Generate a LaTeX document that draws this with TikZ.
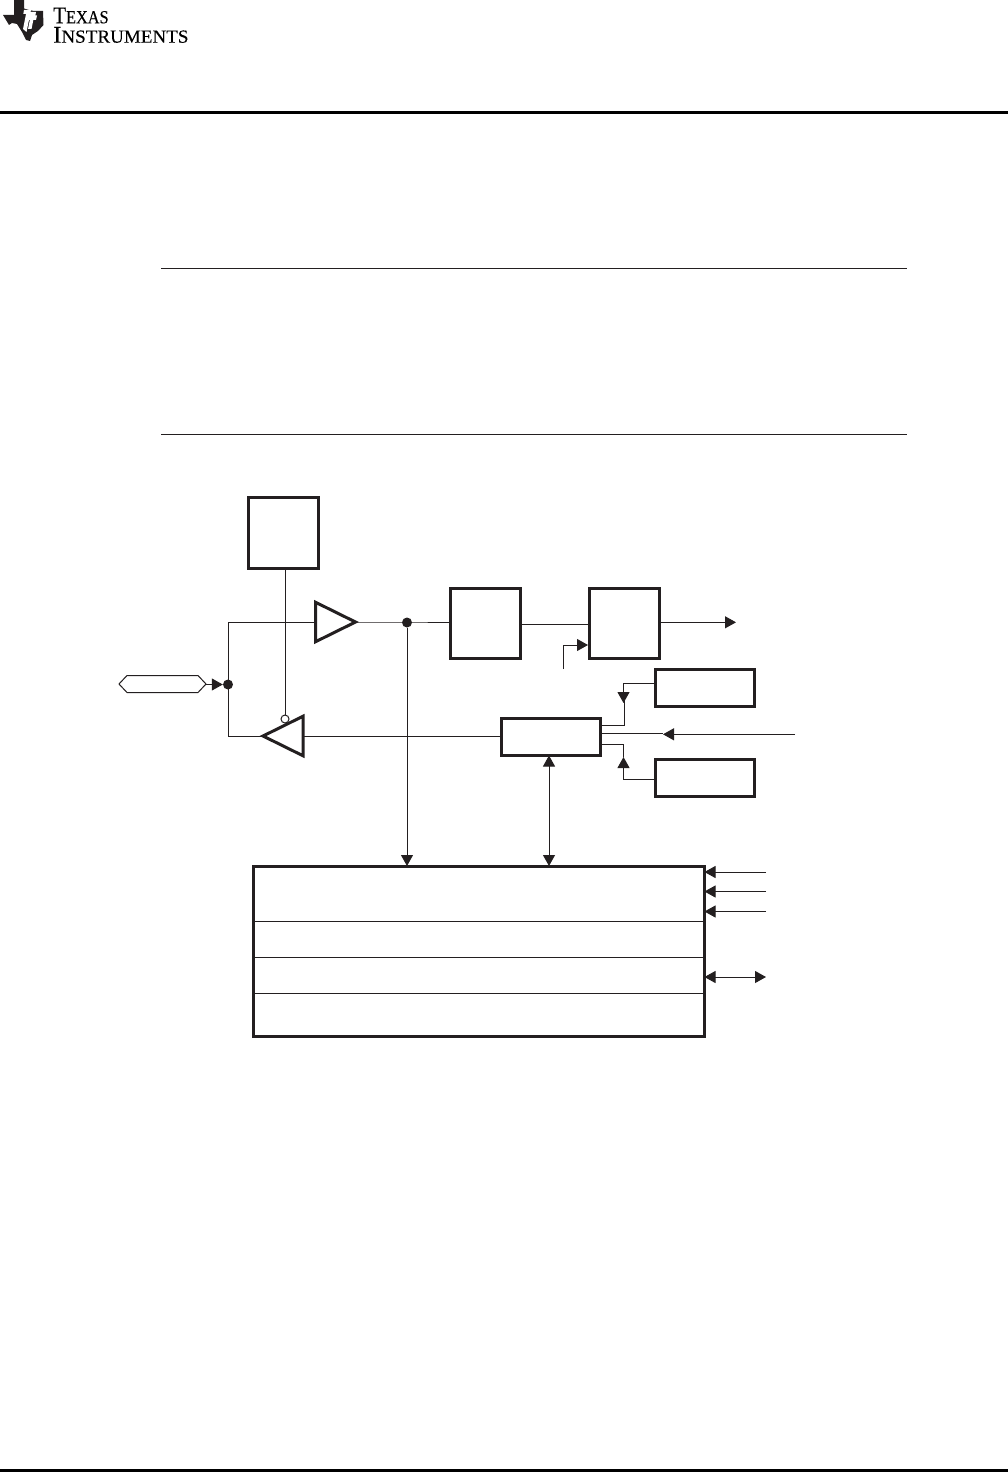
\documentclass[tikz,border=0pt]{standalone}
\usepackage{fontspec}
\setmainfont{Liberation Serif}
\newfontfamily\logotexas[FakeStretch=0.88,FakeBold=0.25]{Liberation Serif}
\newfontfamily\logoinstr[FakeStretch=1.03,FakeBold=0.25]{Liberation Serif}
\usetikzlibrary{arrows.meta,shapes.geometric,calc}
\definecolor{ink}{HTML}{231F20}
\tikzset{
  inkline/.style={line width=1pt,draw=ink},
  flow/.style={inkline,-{Triangle[length=11pt,width=12pt]}},
  flowboth/.style={inkline,{Triangle[length=11pt,width=12pt]}-{Triangle[length=11pt,width=12pt]}},
  blockbox/.style={draw=ink,line width=3pt,inner sep=0pt,outer sep=1.5pt,fill=white},
  buffer/.style={isosceles triangle,isosceles triangle stretches,draw=ink,line width=3pt,inner sep=0pt,outer sep=0pt,minimum width=39.5pt,minimum height=40pt,fill=white},
  junction/.style={circle,fill=ink,inner sep=0pt,minimum size=10pt},
  rulebar/.style={fill=black,draw=none},
  logotext/.style={inner sep=0pt,anchor=base west,text=black}
}
\begin{document}
\begin{tikzpicture}[x=1pt,y=-1pt]
\useasboundingbox (0,0) rectangle (1008,1472);
% Logo
\fill[ink] (14,0) -- (24,0) -- (24,8.5) -- (29,10) -- (34,11) -- (43,11) -- (43.5,25) -- (38,31) -- (32,35) -- (30,41) -- (26,40) -- (22,32) -- (17,24) -- (12,23) -- (9,25) -- (3,15) -- (14,15) -- cycle;
\fill[white] (29.5,5.5) -- (34,5.5) -- (33.3,9) -- (28.8,9) -- cycle;
\fill[white] (24,10) -- (31,10) -- (26.5,32) -- (23,29) -- (26,14) -- (23.3,14) -- cycle;
\fill[white] (28,12) -- (36,12) -- (35.3,15.5) -- (37,15.5) -- (36,20) -- (33.3,20) -- (31.5,29) -- (28,29) -- (29.8,20) -- (27,20) -- (27.8,15.5) -- cycle;
\node[logotext] (lt) at (53,23.3) {\logotexas\fontsize{24}{24}\selectfont T\fontsize{18.5}{19}\selectfont EXAS};
\node[logotext] (li) at (53,42.7) {\logoinstr\fontsize{24}{24}\selectfont I\fontsize{18.5}{19}\selectfont NSTRUMENTS};
% Page rules
\fill[rulebar] (0,111) rectangle (1008,114);
\fill[rulebar] (0,1469) rectangle (1008,1472);
\coordinate (r1l) at (161,268.5); \coordinate (r1r) at (906.5,268.5);
\coordinate (r2l) at (161,434.5); \coordinate (r2r) at (906.5,434.5);
\draw[inkline] (r1l) -- (r1r);
\draw[inkline] (r2l) -- (r2r);
% Blocks
\node[blockbox,minimum width=70.5pt,minimum height=70.5pt] (ctrl) at (283.5,533) {};
\node[blockbox,minimum width=70.5pt,minimum height=69.5pt] (dbox) at (485.7,623.5) {};
\node[blockbox,minimum width=70pt,minimum height=69.5pt] (qbox) at (624,623.5) {};
\node[blockbox,minimum width=99.7pt,minimum height=37pt] (upper) at (705,687.5) {};
\node[blockbox,minimum width=99.7pt,minimum height=36.7pt] (lower) at (705,778) {};
\node[blockbox,minimum width=99.7pt,minimum height=37pt] (mux) at (551,736.5) {};
\node[blockbox,minimum width=450.5pt,minimum height=170.5pt] (main) at (479,951.5) {};
% Buffers
\node[buffer,anchor=lower side] (inbuf) at (315.5,622) {};
\node[buffer,anchor=lower side,shape border rotate=180] (outbuf) at (303,736) {};
\coordinate (inbufin) at (315,622);
\coordinate (outbufout) at (262,736);
% Pad
\path[draw=ink,line width=1pt,fill=white] (119,684) -- (127,675.5) -- (198,675.5) -- (206,684) -- (198,692.5) -- (127,692.5) -- cycle;
\coordinate (padout) at (206,684.5);
% Junctions
\node[junction] (jl) at (228,684.5) {};
\node[junction] (jr) at (407,622.5) {};
\node[circle,draw=ink,line width=1pt,fill=white,inner sep=0pt,minimum size=8pt] (inv) at (285,719) {};
% Connectors
\draw[flow] (padout) -- (jl.west);
\coordinate (ltop) at (228.5,622);
\coordinate (lbot) at (228.5,736);
\draw[inkline] (inbufin) -- (ltop) -- (lbot) -- (outbufout);
\draw[inkline] (ctrl.south -| inv) -- (inv.north);
\coordinate (inapex) at (356,622);
\coordinate (jrin) at (407,622);
\draw[inkline] (inapex) -- (jrin) -- (dbox.west |- jrin);
\coordinate (mainv) at (407,866);
\draw[flow] (jr) -- (mainv);
\coordinate (outin) at (303,736);
\draw[inkline] (outin) -- (mux.west |- outin);
\coordinate (dq) at (590.5,624.3);
\draw[inkline] (dbox.east |- dq) -- (dq);
\coordinate (clk) at (563.5,669);
\coordinate (clkin) at (588,645);
\draw[flow] (clk) -- (clk |- clkin) -- (clkin);
\coordinate (qend) at (736,622.3);
\draw[flow] (qbox.east |- qend) -- (qend);
% Mux side connectors
\coordinate (upbend) at (623.5,683.3);
\coordinate (uptip) at (623.5,703);
\draw[flow] (upper.west |- upbend) -- (upbend) -- (uptip);
\coordinate (upjoin) at (624.5,725.5);
\coordinate (upstem) at (624.5,700);
\draw[inkline] (upstem) -- (upjoin) -- (mux.east |- upjoin);
\coordinate (midin) at (795,734.3);
\coordinate (midtip) at (663,734.3);
\draw[flow] (midin) -- (midtip);
\coordinate (midleft) at (663,733.3);
\draw[inkline] (mux.east |- midleft) -- (midleft);
\coordinate (lowbend) at (623.5,779.5);
\coordinate (lowtip) at (623.5,757);
\draw[flow] (lower.west |- lowbend) -- (lowbend) -- (lowtip);
\coordinate (lowjoin) at (623.5,744.5);
\draw[inkline] (mux.east |- lowjoin) -- (lowjoin) -- (lowtip);
% Mux to main
\coordinate (mmtop) at (549,755.5);
\coordinate (mmbot) at (549,866);
\draw[flowboth] (mmtop) -- (mmbot);
% Main box dividers
\foreach \yy [count=\i] in {921.5,957.5,993.5}{
  \coordinate (dl\i) at (254,\yy);
  \draw[inkline] (dl\i) -- (dl\i -| main.east);
}
% Right side inputs
\foreach \yy [count=\i] in {872,891.5,911.5}{
  \coordinate (in\i) at (766,\yy);
  \coordinate (inend\i) at (704.5,\yy);
  \draw[flow] (in\i) -- (inend\i);
}
\coordinate (bi1) at (704.5,977);
\coordinate (bi2) at (766,977);
\draw[flowboth] (bi1) -- (bi2);
\end{tikzpicture}
\end{document}
